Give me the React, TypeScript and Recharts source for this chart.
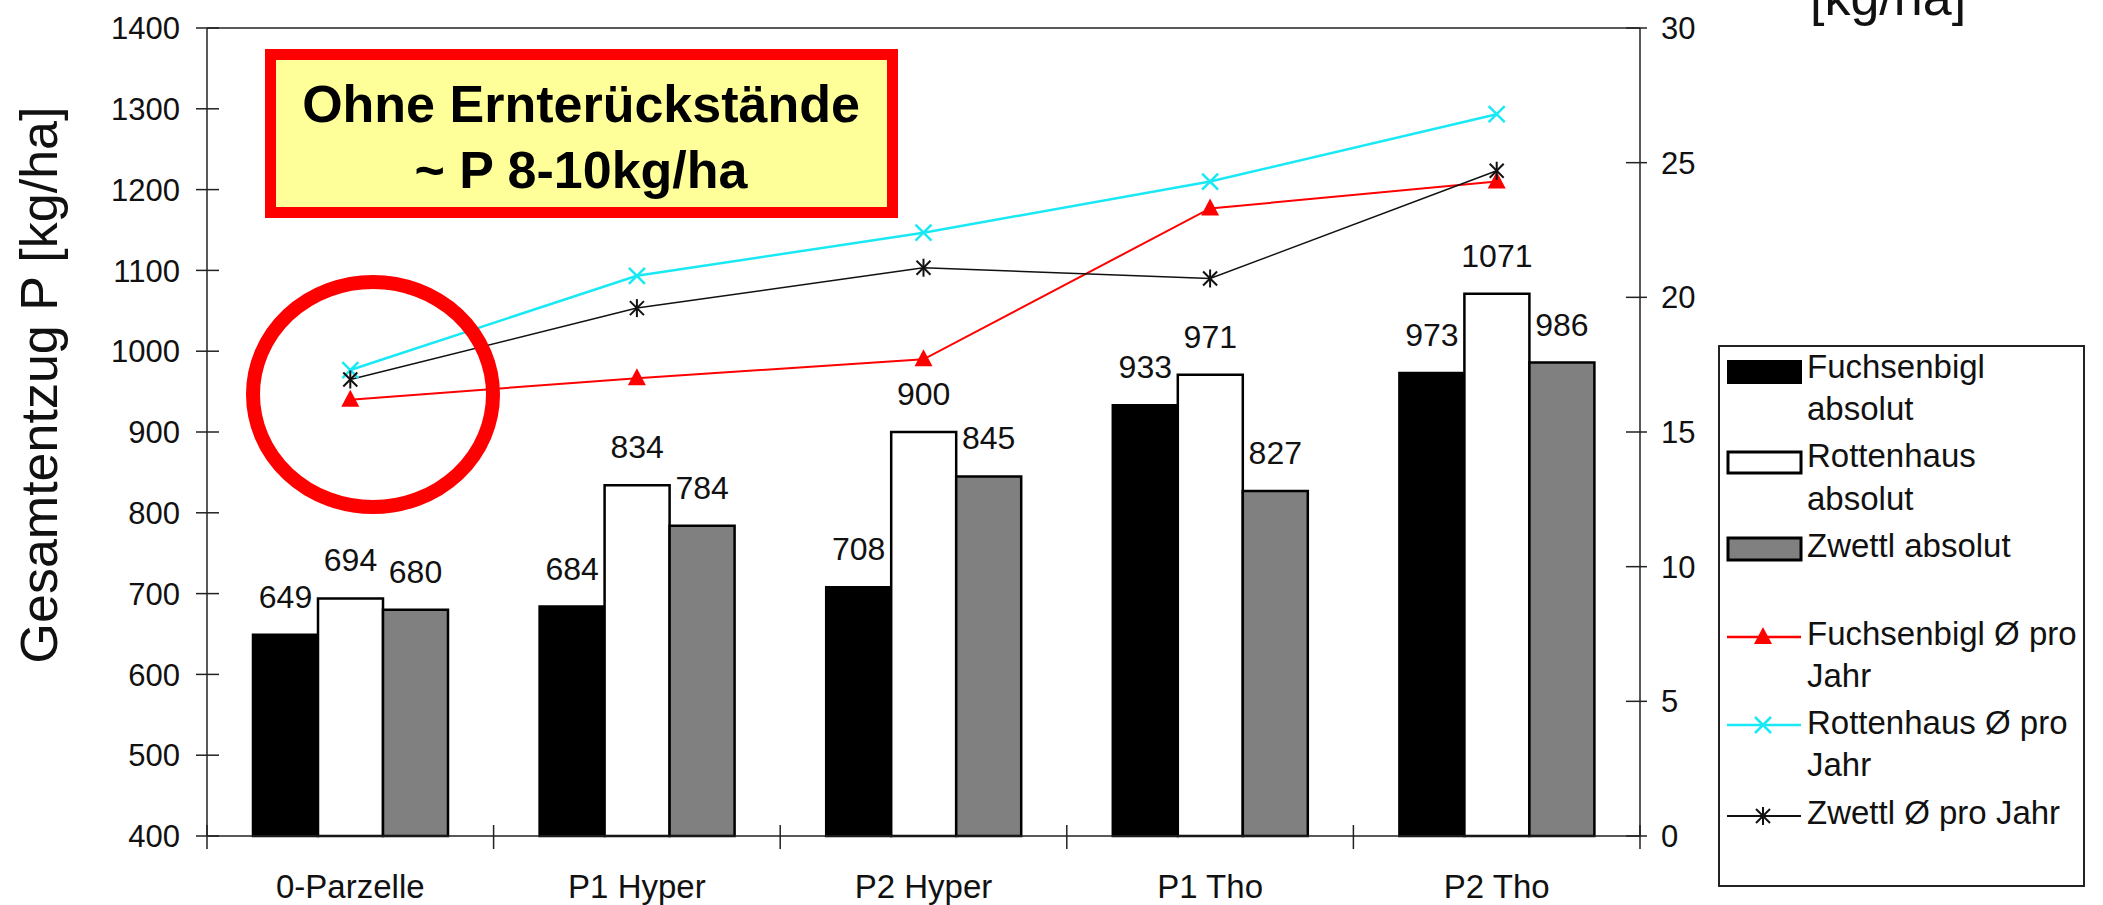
import React from "react";
import {
  ComposedChart,
  Bar,
  Line,
  XAxis,
  YAxis,
  ReferenceLine,
  Legend,
  LabelList
} from "recharts";

// categories and values
const categories = ["0-Parzelle", "P1 Hyper", "P2 Hyper", "P1 Tho", "P2 Tho"];
const fuchsenbiglAbs = [649, 684, 708, 933, 973];
const rottenhausAbs = [694, 834, 900, 971, 1071];
const zwettlAbs = [680, 784, 845, 827, 986];
const fuchsenbiglYear = [16.2, 17.0, 17.7, 23.3, 24.3];
const rottenhausYear = [17.3, 20.8, 22.4, 24.3, 26.8];
const zwettlYear = [16.95, 19.6, 21.1, 20.7, 24.7];
const leftTicks = [400, 500, 600, 700, 800, 900, 1000, 1100, 1200, 1300, 1400];
const rightTicks = [0, 5, 10, 15, 20, 25, 30];

const FONT = '"Liberation Sans", Arial, sans-serif';
const INK = "#111";
const AXIS = "#222";
const PLOT_LEFT = 207;
const PLOT_RIGHT = 1640;
const BAND = (PLOT_RIGHT - PLOT_LEFT) / categories.length;

const data = categories.map((name, i) => ({
  name,
  fAbs: fuchsenbiglAbs[i],
  rAbs: rottenhausAbs[i],
  zAbs: zwettlAbs[i],
  fYear: fuchsenbiglYear[i],
  rYear: rottenhausYear[i],
  zYear: zwettlYear[i]
}));

const LeftTick = (props: any) => {
  const { x, y, payload } = props;
  return (
    <g>
      <line x1={x - 11} x2={x + 12} y1={y} y2={y} stroke={AXIS} strokeWidth={1.5} />
      <text x={x - 27} y={y} dy="0.36em" textAnchor="end" fontSize={31} fill={INK} fontFamily={FONT}>
        {payload.value}
      </text>
    </g>
  );
};

const RightTick = (props: any) => {
  const { x, y, payload } = props;
  return (
    <g>
      <line x1={x - 14} x2={x + 7} y1={y} y2={y} stroke={AXIS} strokeWidth={1.5} />
      <text x={x + 21} y={y} dy="0.36em" textAnchor="start" fontSize={31} fill={INK} fontFamily={FONT}>
        {payload.value}
      </text>
    </g>
  );
};

const CatTick = (props: any) => {
  const { x, y, payload, index } = props;
  return (
    <g>
      <line x1={x - BAND / 2} x2={x - BAND / 2} y1={y - 11} y2={y + 13} stroke={AXIS} strokeWidth={1.5} />
      {index === categories.length - 1 && (
        <line x1={x + BAND / 2} x2={x + BAND / 2} y1={y - 11} y2={y + 13} stroke={AXIS} strokeWidth={1.5} />
      )}
      <text x={x} y={y + 62} textAnchor="middle" fontSize={33} fill={INK} fontFamily={FONT}>
        {payload.value}
      </text>
    </g>
  );
};

const valueLabel = (p: any) => (
  <text
    x={p.x + p.width / 2}
    y={p.y - 27}
    textAnchor="middle"
    fontSize={32}
    fill={INK}
    fontFamily={FONT}
  >
    {p.value}
  </text>
);

const triangle = (p: any) => (
  <polygon
    key={`t-${p.index}`}
    points={`${p.cx},${p.cy - 10} ${p.cx - 9},${p.cy + 7} ${p.cx + 9},${p.cy + 7}`}
    fill="#ff0000"
  />
);

const cross = (p: any) => (
  <g key={`x-${p.index}`} stroke="#19e8f5" strokeWidth={2.5}>
    <line x1={p.cx - 8} y1={p.cy - 8} x2={p.cx + 8} y2={p.cy + 8} />
    <line x1={p.cx - 8} y1={p.cy + 8} x2={p.cx + 8} y2={p.cy - 8} />
  </g>
);

const star = (p: any) => (
  <g key={`s-${p.index}`} stroke="#111" strokeWidth={2}>
    <line x1={p.cx - 7} y1={p.cy - 7} x2={p.cx + 7} y2={p.cy + 7} />
    <line x1={p.cx - 7} y1={p.cy + 7} x2={p.cx + 7} y2={p.cy - 7} />
    <line x1={p.cx} y1={p.cy - 9} x2={p.cx} y2={p.cy + 9} />
  </g>
);

const LegendBox = () => {
  const txt = (x: number, y: number, s: string) => (
    <text x={x} y={y} fontSize={33} fill={INK} fontFamily={FONT}>
      {s}
    </text>
  );
  return (
    <svg width={367} height={542}>
      <rect x={1} y={1} width={365} height={540} fill="#fff" stroke={AXIS} strokeWidth={2} />
      <rect x={10} y={16} width={73} height={22} fill="#000" stroke="#000" strokeWidth={2} />
      {txt(89, 33, "Fuchsenbigl")}
      {txt(89, 75, "absolut")}
      <rect x={10} y={107} width={73} height={21} fill="#fff" stroke="#000" strokeWidth={3} />
      {txt(89, 122, "Rottenhaus")}
      {txt(89, 165, "absolut")}
      <rect x={10} y={193} width={73} height={22} fill="#808080" stroke="#000" strokeWidth={3} />
      {txt(89, 212, "Zwettl absolut")}
      <line x1={9} x2={83} y1={292} y2={292} stroke="#ff0000" strokeWidth={2.5} />
      {triangle({ cx: 45, cy: 292, index: "l" })}
      {txt(89, 300, "Fuchsenbigl Ø pro")}
      {txt(89, 342, "Jahr")}
      <line x1={9} x2={83} y1={380} y2={380} stroke="#19e8f5" strokeWidth={2.5} />
      {cross({ cx: 45, cy: 380, index: "l" })}
      {txt(89, 389, "Rottenhaus Ø pro")}
      {txt(89, 431, "Jahr")}
      <line x1={9} x2={83} y1={471} y2={471} stroke="#111" strokeWidth={2} />
      {star({ cx: 45, cy: 471, index: "l" })}
      {txt(89, 479, "Zwettl Ø pro Jahr")}
    </svg>
  );
};

export default function App() {
  return (
    <div
      style={{
        position: "absolute",
        left: 0,
        top: 0,
        width: 2103,
        height: 905,
        background: "#fff",
        fontFamily: FONT,
        overflow: "hidden"
      }}
    >
      <ComposedChart
        width={2103}
        height={905}
        data={data}
        margin={{ top: 28, right: 363, bottom: 9, left: 0 }}
        barGap={0}
      >
        <XAxis
          dataKey="name"
          interval={0}
          height={60}
          tickSize={0}
          tickMargin={0}
          tickLine={false}
          axisLine={{ stroke: AXIS, strokeWidth: 1.5 }}
          tick={<CatTick />}
        />
        <YAxis
          yAxisId="left"
          width={207}
          domain={[400, 1400]}
          ticks={leftTicks}
          tickSize={0}
          tickMargin={0}
          tickLine={false}
          axisLine={{ stroke: AXIS, strokeWidth: 1.5 }}
          tick={<LeftTick />}
        />
        <YAxis
          yAxisId="right"
          orientation="right"
          width={100}
          domain={[0, 30]}
          ticks={rightTicks}
          tickSize={0}
          tickMargin={0}
          tickLine={false}
          axisLine={{ stroke: AXIS, strokeWidth: 1.5 }}
          tick={<RightTick />}
        />
        <ReferenceLine yAxisId="left" y={1400} stroke={AXIS} strokeWidth={1.5} />
        <Bar yAxisId="left" dataKey="fAbs" name="Fuchsenbigl absolut" barSize={65} fill="#000" stroke="#000" strokeWidth={2.5} isAnimationActive={false}>
          <LabelList dataKey="fAbs" content={valueLabel} />
        </Bar>
        <Bar yAxisId="left" dataKey="rAbs" name="Rottenhaus absolut" barSize={65} fill="#fff" stroke="#000" strokeWidth={2.5} isAnimationActive={false}>
          <LabelList dataKey="rAbs" content={valueLabel} />
        </Bar>
        <Bar yAxisId="left" dataKey="zAbs" name="Zwettl absolut" barSize={65} fill="#808080" stroke="#000" strokeWidth={2.5} isAnimationActive={false}>
          <LabelList dataKey="zAbs" content={valueLabel} />
        </Bar>
        <Line yAxisId="right" dataKey="fYear" name="Fuchsenbigl Ø pro Jahr" stroke="#ff0000" strokeWidth={2} dot={triangle} activeDot={false} isAnimationActive={false} />
        <Line yAxisId="right" dataKey="rYear" name="Rottenhaus Ø pro Jahr" stroke="#19e8f5" strokeWidth={2.5} dot={cross} activeDot={false} isAnimationActive={false} />
        <Line yAxisId="right" dataKey="zYear" name="Zwettl Ø pro Jahr" stroke="#111" strokeWidth={1.5} dot={star} activeDot={false} isAnimationActive={false} />
        <Legend
          layout="vertical"
          align="center"
          verticalAlign="middle"
          content={() => <LegendBox />}
          wrapperStyle={{ position: "absolute", left: 1718, top: 345, width: 367, height: 542 }}
        />
      </ComposedChart>
      <svg
        width={2103}
        height={905}
        style={{ position: "absolute", left: 0, top: 0, pointerEvents: "none" }}
      >
        <text
          x={57}
          y={385}
          transform="rotate(-90, 57, 385)"
          textAnchor="middle"
          fontSize={52}
          fill={INK}
          fontFamily={FONT}
        >
          Gesamtentzug P [kg/ha]
        </text>
        <text x={1810} y={15} fontSize={52} fill={INK} fontFamily={FONT}>
          [kg/ha]
        </text>
        <rect x={270.5} y={54.5} width={622} height={158} fill="#ffff99" stroke="#ff0000" strokeWidth={11} />
        <text x={581} y={122} textAnchor="middle" fontSize={52} fontWeight="bold" fill="#000" fontFamily={FONT}>
          Ohne Ernterückstände
        </text>
        <text x={581} y={188} textAnchor="middle" fontSize={52} fontWeight="bold" fill="#000" fontFamily={FONT}>
          ~ P 8-10kg/ha
        </text>
        <ellipse cx={373} cy={394.5} rx={120} ry={112.5} fill="none" stroke="#ff0000" strokeWidth={14} />
      </svg>
    </div>
  );
}
